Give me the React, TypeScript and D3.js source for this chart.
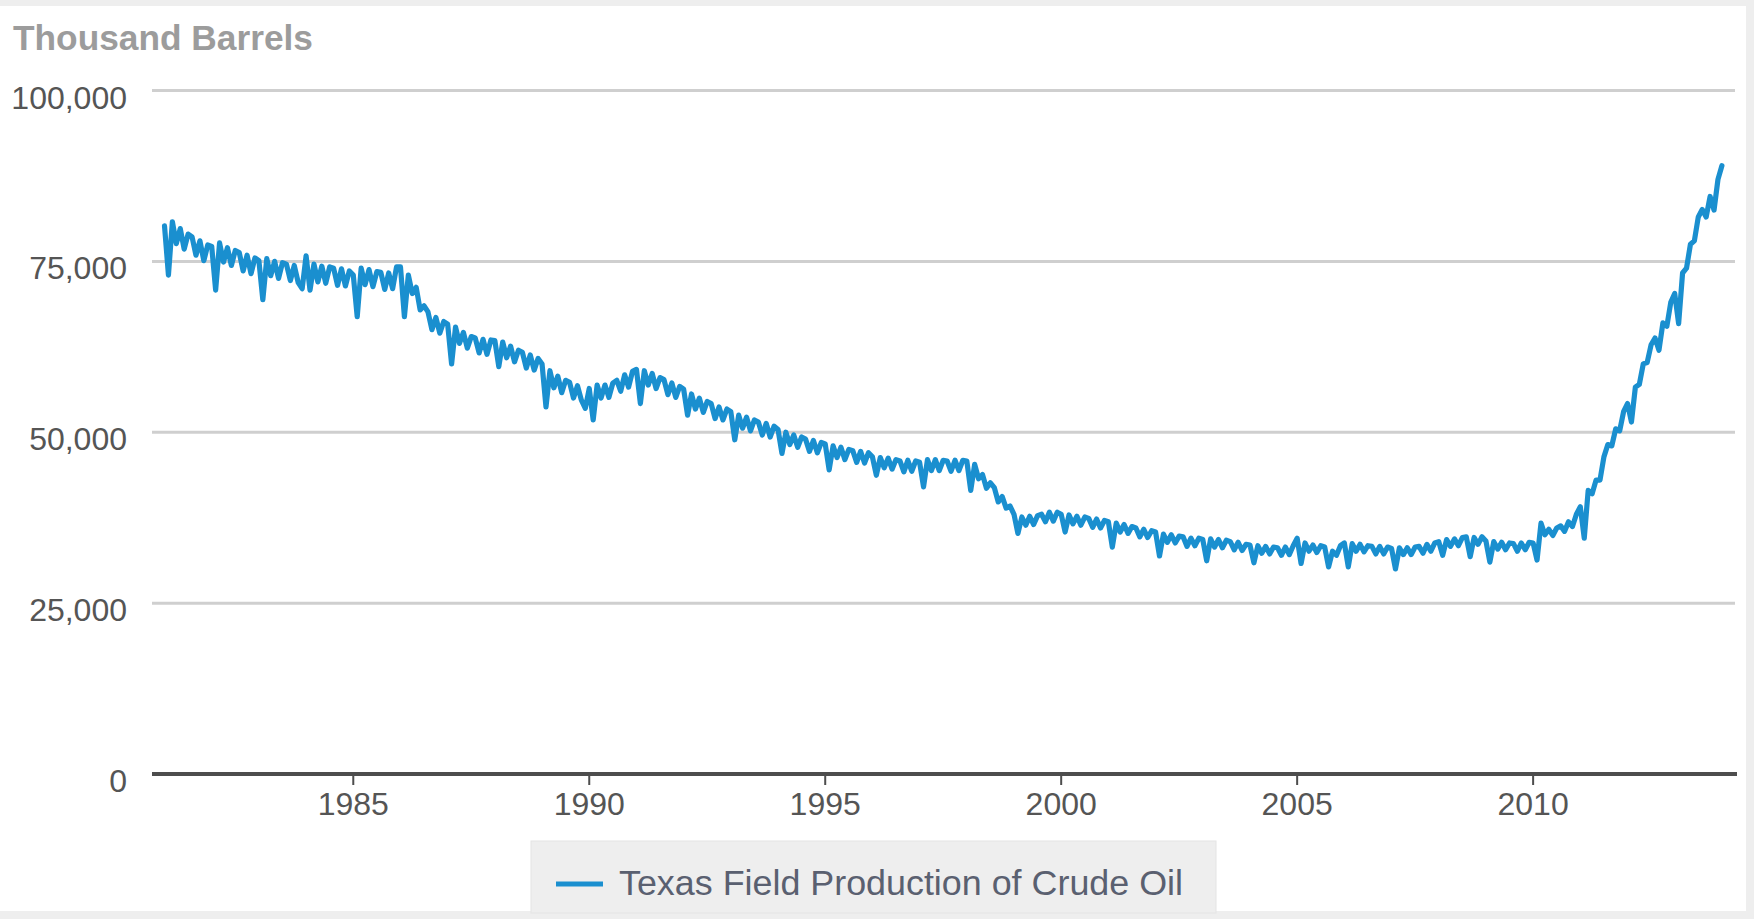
import React from "react";
import * as d3 from "d3";

// Texas Field Production of Crude Oil, thousand barrels per month, Jan 1981 onward
const prod1980s: number[] = [
  // 1981
  80.2, 73.0, 80.8, 77.6, 79.8, 76.8, 79.0, 78.6, 75.9, 78.0, 75.1, 77.4,
  // 1982
  77.2, 70.8, 77.7, 74.9, 77.0, 74.4, 76.6, 76.3, 73.6, 75.9, 73.2, 75.5,
  // 1983
  75.1, 69.4, 75.4, 72.9, 75.0, 72.5, 74.8, 74.6, 72.2, 74.4, 71.9, 71.0,
  // 1984
  75.8, 70.8, 74.6, 72.0, 74.3, 71.8, 74.2, 74.0, 71.5, 73.9, 71.4, 73.6,
  // 1985
  73.0, 66.9, 74.0, 71.6, 73.8, 71.3, 73.5, 73.4, 70.9, 73.3, 71.0, 74.2,
  // 1986
  74.2, 66.9, 73.0, 70.3, 71.2, 67.9, 68.5, 67.6, 65.0, 66.8, 64.5, 66.2,
  // 1987
  65.8, 60.0, 65.4, 63.0, 64.6, 62.3, 64.0, 63.8, 61.6, 63.6, 61.4, 63.5,
  // 1988
  63.4, 59.6, 63.2, 60.9, 62.6, 60.3, 62.0, 61.7, 59.4, 61.3, 59.1, 60.8,
  // 1989
  60.0, 53.7, 59.0, 56.5, 58.2, 55.8, 57.6, 57.3, 55.0, 56.8, 54.7, 53.5,
];

const prod1990s: number[] = [
  // 1990
  56.4, 51.8, 56.9, 55.0, 56.9, 55.1, 57.2, 57.6, 56.0, 58.4, 56.6, 58.9,
  // 1991
  59.2, 54.2, 59.0, 56.9, 58.6, 56.4, 58.0, 57.7, 55.5, 57.2, 55.1, 56.7,
  // 1992
  56.3, 52.5, 55.6, 53.4, 55.0, 52.9, 54.5, 54.2, 52.0, 53.7, 51.8, 53.4,
  // 1993
  53.0, 48.9, 52.5, 50.6, 52.2, 50.2, 51.8, 51.5, 49.6, 51.3, 49.3, 50.9,
  // 1994
  50.4, 46.9, 50.0, 48.2, 49.6, 47.8, 49.3, 49.0, 47.2, 48.8, 47.0, 48.5,
  // 1995
  48.3, 44.5, 48.0, 46.3, 47.8, 46.0, 47.5, 47.3, 45.6, 47.2, 45.5, 47.0,
  // 1996
  46.4, 43.7, 46.3, 44.8, 46.2, 44.6, 46.0, 45.8, 44.2, 45.9, 44.3, 45.8,
  // 1997
  45.6, 42.0, 46.0, 44.4, 46.0, 44.4, 45.9, 45.8, 44.3, 45.9, 44.4, 45.9,
  // 1998
  45.8, 41.5, 45.3, 43.2, 43.8, 41.8, 42.6, 41.9, 39.8, 40.6, 38.9, 39.2,
  // 1999
  38.0, 35.2, 37.6, 36.4, 37.7, 36.5, 37.8, 38.0, 36.9, 38.3, 37.0, 38.3,
];

const prod2000s: number[] = [
  // 2000
  38.0, 35.4, 37.9, 36.6, 37.7, 36.4, 37.6, 37.4, 36.1, 37.3, 36.0, 37.1,
  // 2001
  36.9, 33.2, 36.7, 35.4, 36.5, 35.2, 36.2, 36.0, 34.7, 35.8, 34.6, 35.6,
  // 2002
  35.4, 31.9, 35.1, 33.9, 35.0, 33.8, 34.8, 34.7, 33.3, 34.5, 33.4, 34.5,
  // 2003
  34.3, 31.2, 34.4, 33.2, 34.3, 33.1, 34.2, 34.0, 32.8, 33.9, 32.7, 33.6,
  // 2004
  33.5, 30.9, 33.4, 32.3, 33.3, 32.2, 33.2, 33.1, 32.0, 33.2, 32.1, 33.4,
  // 2005
  34.5, 30.8, 33.8, 32.6, 33.5, 32.4, 33.4, 33.2, 30.3, 32.6, 32.0, 33.4,
  // 2006
  33.8, 30.3, 33.7, 32.6, 33.6, 32.5, 33.4, 33.3, 32.2, 33.3, 32.2, 33.2,
  // 2007
  33.0, 30.0, 33.1, 32.1, 33.1, 32.1, 33.2, 33.3, 32.3, 33.6, 32.6, 33.8,
  // 2008
  34.0, 32.0, 34.3, 33.3, 34.4, 33.4, 34.6, 34.7, 31.8, 34.6, 33.6, 34.7,
  // 2009
  34.1, 31.0, 34.0, 32.9, 33.9, 32.8, 33.8, 33.7, 32.6, 33.8, 32.8, 33.9,
];

const prod2010s: number[] = [
  // 2010
  33.8, 31.3, 36.7, 35.0, 35.8, 34.9, 36.0, 36.3, 35.5, 36.9, 36.2, 38.0,
  // 2011
  39.1, 34.5, 41.5, 41.0, 43.0, 43.0, 46.4, 48.2, 48.0, 50.5, 50.2, 53.0,
  // 2012
  54.2, 51.5, 56.6, 57.0, 60.0, 60.2, 62.8, 63.8, 62.0, 66.0, 65.5, 69.0,
  // 2013
  70.3, 65.9, 73.3, 74.0, 77.5, 78.0, 81.5, 82.6, 81.5, 84.5, 82.5, 87.0,
  // 2014
  89.0,
];

const startYear = 1981;
const yTicks = [0, 25000, 50000, 75000, 100000];
const xTicks = [1985, 1990, 1995, 2000, 2005, 2010];
const yTitle = "Thousand Barrels";
const seriesName = "Texas Field Production of Crude Oil";

const W = 1754;
const H = 919;
const FONT = "'Liberation Sans', Arial, Helvetica, sans-serif";
const BLUE = "#1a8fcf";

export default function App() {
  const values = [...prod1980s, ...prod1990s, ...prod2000s, ...prod2010s].map((v) => v * 1000);
  const data = values.map((v, i) => ({ t: startYear + i / 12, v }));

  const x = d3.scaleLinear().domain([1980.735, 2014.32]).range([152, 1737]);
  const y = d3.scaleLinear().domain([0, 100000]).range([774, 90.5]);

  const line = d3
    .line<{ t: number; v: number }>()
    .x((d) => x(d.t))
    .y((d) => y(d.v));

  const fmt = d3.format(",");

  return (
    <svg
      width={W}
      height={H}
      style={{ position: "absolute", left: 0, top: 0, background: "#fff" }}
      fontFamily={FONT}
    >
      <rect x={0} y={0} width={W} height={H} fill="#fff" />
      {/* faint frame of the screenshot */}
      <rect x={0} y={0} width={W} height={6} fill="#eeeeee" />
      <rect x={0} y={911} width={W} height={8} fill="#eeeeee" />
      <rect x={1746} y={0} width={8} height={H} fill="#eeeeee" />

      <text x={13} y={50} fontSize={35} fontWeight="bold" fill="#9c9c9c" textLength={300} lengthAdjust="spacingAndGlyphs">
        {yTitle}
      </text>

      {yTicks.map((t) => (
        <g key={t}>
          {t > 0 && (
            <line x1={152} x2={1735} y1={y(t)} y2={y(t)} stroke="#cfcfcf" strokeWidth={3} />
          )}
          <text x={127} y={y(t) + 18} fontSize={32} fill="#555" textAnchor="end">
            {fmt(t)}
          </text>
        </g>
      ))}

      <path
        d={line(data) || ""}
        fill="none"
        stroke={BLUE}
        strokeWidth={5.2}
        strokeLinejoin="round"
        strokeLinecap="round"
      />

      <line x1={152} x2={1737} y1={y(0)} y2={y(0)} stroke="#4d4d4d" strokeWidth={4} />
      {xTicks.map((t) => (
        <g key={t}>
          <line x1={x(t)} x2={x(t)} y1={y(0)} y2={y(0) + 11} stroke="#4d4d4d" strokeWidth={2} />
          <text x={x(t)} y={815} fontSize={32} fill="#555" textAnchor="middle">
            {t}
          </text>
        </g>
      ))}

      {/* legend */}
      <rect x={531} y={841} width={685} height={72} fill="#eeeeee" stroke="#e4e4e4" strokeWidth={1} />
      <line x1={556} x2={603} y1={884} y2={884} stroke={BLUE} strokeWidth={5} />
      <text x={619} y={895} fontSize={35} fill="#5a6070" textLength={564} lengthAdjust="spacingAndGlyphs">
        {seriesName}
      </text>
    </svg>
  );
}
